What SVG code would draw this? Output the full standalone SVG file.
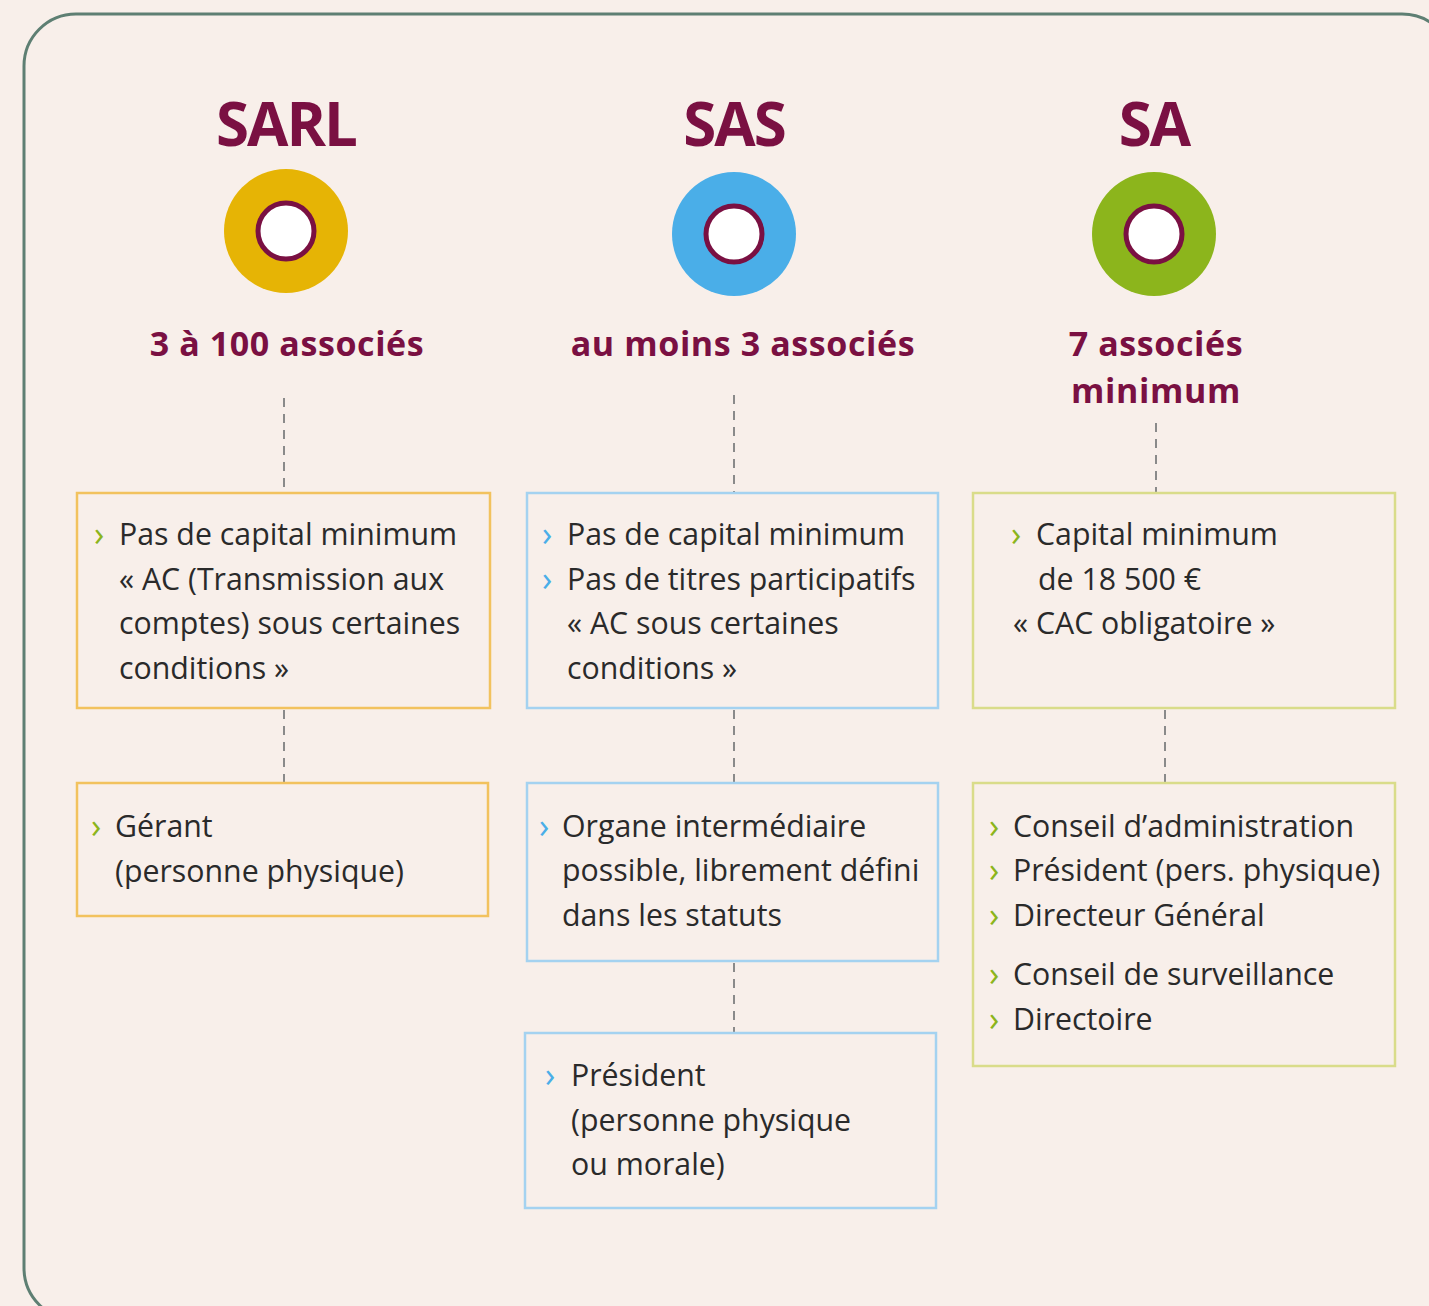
<svg xmlns="http://www.w3.org/2000/svg" width="1429" height="1306" viewBox="0 0 1429 1306">
<style>
.title{font-family:"Open Sans","DejaVu Sans",sans-serif;font-weight:700;font-size:60px;fill:#7a1042;text-anchor:middle;letter-spacing:-2px}
.sub{font-family:"Open Sans","DejaVu Sans",sans-serif;font-weight:700;font-size:34px;fill:#7a1042;text-anchor:middle;letter-spacing:0.6px}
.t{font-family:"Open Sans","DejaVu Sans",sans-serif;font-size:30.3px;fill:#2a2a2a}
.bg{fill:#8cb51c}
.bb{fill:#4aaee8}
.bul{font-family:"Open Sans","DejaVu Sans",sans-serif;font-size:34px}
.box{fill:none;stroke-width:2.5}
.yl{stroke:#f2c25e}
.bl{stroke:#a4d2f0}
.gr{stroke:#d9dc8a}
.dash{stroke:#8a8a8a;stroke-width:2;stroke-dasharray:9 7;fill:none}
.inner{fill:#ffffff;stroke:#7a1042;stroke-width:5}
</style>
<rect x="0" y="0" width="1429" height="1306" fill="#f8efea"/>
<rect x="24" y="14" width="1430" height="1306" rx="52" ry="52" fill="none" stroke="#5e7f73" stroke-width="3"/>

<g id="connectors">
<line class="dash" x1="284" y1="398" x2="284" y2="492"/>
<line class="dash" x1="284" y1="710" x2="284" y2="782"/>
<line class="dash" x1="734" y1="395" x2="734" y2="492"/>
<line class="dash" x1="734" y1="710" x2="734" y2="782"/>
<line class="dash" x1="734" y1="963" x2="734" y2="1032"/>
<line class="dash" x1="1156" y1="423" x2="1156" y2="492"/>
<line class="dash" x1="1165" y1="710" x2="1165" y2="782"/>
</g>

<g id="sarl-head">
<text class="title" x="286" y="146">SARL</text>
<circle cx="286" cy="231" r="62" fill="#e6b405"/>
<circle cx="286" cy="231" r="28" class="inner"/>
<text class="sub" x="287" y="356">3 à 100 associés</text>
</g>
<g id="sas-head">
<text class="title" x="734" y="146">SAS</text>
<circle cx="734" cy="234" r="62" fill="#4aaee8"/>
<circle cx="734" cy="234" r="28" class="inner"/>
<text class="sub" x="743" y="356">au moins 3 associés</text>
</g>
<g id="sa-head">
<text class="title" x="1154" y="146">SA</text>
<circle cx="1154" cy="234" r="62" fill="#8cb51c"/>
<circle cx="1154" cy="234" r="28" class="inner"/>
<text class="sub" x="1156" y="356">7 associés</text>
<text class="sub" x="1156" y="403">minimum</text>
</g>

<g id="sarl-box1">
<rect class="box yl" x="77" y="493" width="413" height="215"/>
<text class="bul bg" x="94" y="546">›</text>
<text class="t" x="119" y="545">Pas de capital minimum</text>
<text class="t" x="119" y="590">« AC (Transmission aux</text>
<text class="t" x="119" y="634">comptes) sous certaines</text>
<text class="t" x="119" y="679">conditions »</text>
</g>
<g id="sarl-box2">
<rect class="box yl" x="77" y="783" width="411" height="133"/>
<text class="bul bg" x="91" y="838">›</text>
<text class="t" x="115" y="837">Gérant</text>
<text class="t" x="115" y="882">(personne physique)</text>
</g>

<g id="sas-box1">
<rect class="box bl" x="527" y="493" width="411" height="215"/>
<text class="bul bb" x="542" y="546">›</text>
<text class="t" x="567" y="545">Pas de capital minimum</text>
<text class="bul bb" x="542" y="591">›</text>
<text class="t" x="567" y="590">Pas de titres participatifs</text>
<text class="t" x="567" y="634">« AC sous certaines</text>
<text class="t" x="567" y="679">conditions »</text>
</g>
<g id="sas-box2">
<rect class="box bl" x="527" y="783" width="411" height="178"/>
<text class="bul bb" x="539" y="838">›</text>
<text class="t" x="562" y="837">Organe intermédiaire</text>
<text class="t" x="562" y="881">possible, librement défini</text>
<text class="t" x="562" y="926">dans les statuts</text>
</g>
<g id="sas-box3">
<rect class="box bl" x="525" y="1033" width="411" height="175"/>
<text class="bul bb" x="545" y="1087">›</text>
<text class="t" x="571" y="1086">Président</text>
<text class="t" x="571" y="1131">(personne physique</text>
<text class="t" x="571" y="1175">ou morale)</text>
</g>

<g id="sa-box1">
<rect class="box gr" x="973" y="493" width="422" height="215"/>
<text class="bul bg" x="1011" y="546">›</text>
<text class="t" x="1036" y="545">Capital minimum</text>
<text class="t" x="1038" y="590">de 18 500 €</text>
<text class="t" x="1013" y="634">« CAC obligatoire »</text>
</g>
<g id="sa-box2">
<rect class="box gr" x="973" y="783" width="422" height="283"/>
<text class="bul bg" x="989" y="838">›</text>
<text class="t" x="1013" y="837">Conseil d’administration</text>
<text class="bul bg" x="989" y="882">›</text>
<text class="t" x="1013" y="881">Président (pers. physique)</text>
<text class="bul bg" x="989" y="927">›</text>
<text class="t" x="1013" y="926">Directeur Général</text>
<text class="bul bg" x="989" y="986">›</text>
<text class="t" x="1013" y="985">Conseil de surveillance</text>
<text class="bul bg" x="989" y="1031">›</text>
<text class="t" x="1013" y="1030">Directoire</text>
</g>
</svg>
